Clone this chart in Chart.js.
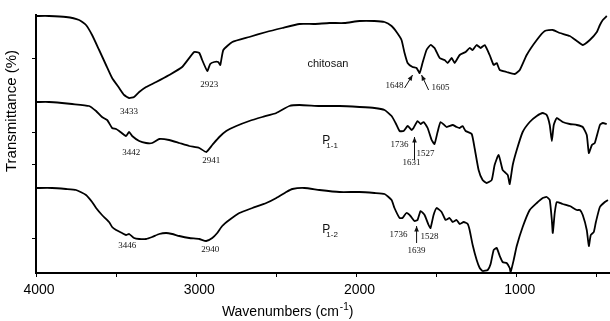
<!DOCTYPE html>
<html>
<head>
<meta charset="utf-8">
<script src="https://cdn.jsdelivr.net/npm/chart.js@4"></script>
<style>
  html, body { margin: 0; padding: 0; background: #fff; }
  #wrap { width: 610px; height: 321px; }
</style>
</head>
<body>
<div id="wrap"><canvas id="ftir"></canvas></div>
<script>
// spectra (wavenumber in cm-1, transmittance in arbitrary stacked units)
const chitosanWn = [4000,3919,3813,3731,3688,3650,3606,3563,3525,3481,3450,3419,3388,3356,3313,3250,3169,3088,3013,2981,2963,2931,2913,2888,2863,2850,2831,2775,2669,2563,2463,2356,2263,2169,2075,1981,1888,1825,1781,1750,1719,1700,1681,1650,1625,1606,1588,1563,1538,1513,1481,1450,1431,1406,1388,1356,1319,1294,1275,1250,1225,1200,1169,1144,1125,1106,1063,1013,981,938,875,825,775,731,669,625,588,544,500,481,463,438];
const chitosanT  = [257,257,256,253,248,238,223,208,195,185,178,175,176,181,186,191,198,206,221,220,213,202,209,211,211,208,223,231,236,241,245,249,249,250,250,252,252,251,247,241,233,220,210,206,205,200,210,223,228,225,215,213,210,215,210,218,221,225,223,228,225,228,218,208,210,203,201,199,203,218,233,242,243,240,237,232,228,233,241,248,253,257];

const p11Wn = [3994,3919,3838,3775,3669,3625,3588,3556,3544,3525,3500,3481,3438,3419,3400,3356,3313,3275,3231,3169,3106,3044,2981,2938,2900,2856,2813,2750,2669,2588,2500,2419,2356,2231,2106,1981,1888,1825,1781,1756,1731,1706,1681,1656,1644,1619,1600,1581,1556,1531,1513,1494,1475,1438,1400,1375,1356,1338,1319,1281,1263,1238,1213,1188,1156,1138,1113,1088,1075,1056,1044,1025,1000,963,919,875,838,813,794,781,769,750,713,669,625,588,563,550,531,513,481,463,438];
const p11T  = [171,171,170,169,167,162,156,153,150,145,144,142,137,141,137,132,130,130,134,133,130,127,125,121,128,136,142,147,152,156,160,167,168,167,167,166,165,163,157,150,142,142,147,143,145,152,149,151,145,133,129,141,151,146,148,146,145,147,142,139,125,103,93,90,93,108,118,103,101,98,89,108,123,141,151,157,160,158,148,132,148,155,151,149,148,146,138,120,128,130,148,150,149];

const p12Wn = [4000,3900,3813,3750,3688,3650,3625,3588,3544,3525,3500,3463,3438,3419,3388,3356,3313,3275,3231,3188,3150,3106,3044,2981,2938,2900,2869,2838,2794,2731,2650,2563,2500,2438,2400,2325,2231,2106,1981,1888,1825,1781,1763,1731,1713,1688,1663,1638,1619,1600,1575,1550,1538,1519,1500,1469,1444,1419,1400,1375,1356,1331,1306,1294,1275,1250,1231,1213,1181,1163,1144,1125,1106,1088,1063,1044,1038,1019,1000,963,919,875,838,813,794,781,775,763,750,713,669,625,606,588,563,550,538,519,506,481,450,431];
const p12T  = [85,85,84,83,78,71,65,58,51,46,43,40,38,39,35,34,34,36,39,40,39,37,35,34,32,35,40,47,53,60,65,70,75,81,84,85,83,81,81,80,79,73,65,55,55,60,57,52,53,62,58,48,45,58,65,61,53,55,51,53,49,51,49,43,28,13,5,2,3,9,23,25,17,11,10,5,1,13,27,46,63,70,75,76,73,53,40,60,71,69,67,63,63,58,43,27,38,41,51,66,71,73];

const xTicks = [4000, 3500, 3000, 2500, 2000, 1500, 1000, 500];
const yTicks = [214, 141, 108, 35];

// peak labels: [text, wavenumber, transmittance]
const peakLabels = [
  ['3433', 3419, 161], ['2923', 2919, 188], ['1648', 1763, 187], ['1605', 1475, 185],
  ['3442', 3406, 120], ['2941', 2906, 112], ['1736', 1731, 128], ['1527', 1569, 119], ['1631', 1656, 110],
  ['3446', 3431, 27],  ['2940', 2913, 23],  ['1736', 1738, 38],  ['1528', 1544, 36],  ['1639', 1625, 22]
];
// arrows: [fromWn, fromT, toWn, toT]
const arrows = [
  [1700, 185, 1650, 198], [1550, 183, 1594, 198],
  [1638, 113, 1638, 136],
  [1625, 30, 1625, 47]
];
// sample names: [main, subscript, wavenumber, transmittance]
const sampleNames = [['chitosan', '', 2306, 210], ['P', '1-1', 2213, 131], ['P', '1-2', 2213, 42]];

function pts(wn, t) {
  return wn.map((w, i) => ({ x: w, y: t[i] }));
}

const lineStyle = {
  borderColor: '#000',
  borderWidth: 1.8,
  pointRadius: 0,
  tension: 0.15,
  fill: false
};

const annotate = {
  id: 'annotate',
  afterDatasetsDraw(chart) {
    const { ctx, scales: { x, y } } = chart;
    ctx.save();
    ctx.fillStyle = '#111';
    ctx.strokeStyle = '#111';

    // peak numbers
    ctx.font = '9px "Liberation Serif", serif';
    ctx.textAlign = 'center';
    ctx.textBaseline = 'middle';
    peakLabels.forEach(([txt, w, t]) => {
      ctx.fillText(txt, x.getPixelForValue(w), y.getPixelForValue(t));
    });

    // arrows
    ctx.lineWidth = 1;
    arrows.forEach(([w1, t1, w2, t2]) => {
      const x1 = x.getPixelForValue(w1), y1 = y.getPixelForValue(t1);
      const x2 = x.getPixelForValue(w2), y2 = y.getPixelForValue(t2);
      const a = Math.atan2(y2 - y1, x2 - x1);
      ctx.beginPath();
      ctx.moveTo(x1, y1);
      ctx.lineTo(x2, y2);
      ctx.stroke();
      ctx.beginPath();
      ctx.moveTo(x2, y2);
      ctx.lineTo(x2 - 6 * Math.cos(a - 0.4), y2 - 6 * Math.sin(a - 0.4));
      ctx.lineTo(x2 - 6 * Math.cos(a + 0.4), y2 - 6 * Math.sin(a + 0.4));
      ctx.closePath();
      ctx.fill();
    });

    // sample names
    ctx.textAlign = 'left';
    ctx.textBaseline = 'alphabetic';
    sampleNames.forEach(([main, sub, w, t]) => {
      const px = x.getPixelForValue(w), py = y.getPixelForValue(t);
      if (!sub) {
        ctx.font = '11px "Liberation Sans", Arial, sans-serif';
        ctx.fillText(main, px, py + 4);
      } else {
        ctx.font = '12px "Liberation Sans", Arial, sans-serif';
        ctx.fillText(main, px, py + 2);
        ctx.font = '8px "Liberation Sans", Arial, sans-serif';
        ctx.fillText(sub, px + 4, py + 6);
      }
    });
    ctx.restore();
  },
  afterDraw(chart) {
    const { ctx, scales: { x, y } } = chart;
    ctx.save();
    ctx.fillStyle = '#000';

    // y title
    ctx.font = '15px "Liberation Sans", Arial, sans-serif';
    ctx.textAlign = 'center';
    ctx.textBaseline = 'middle';
    ctx.translate(12, y.getPixelForValue(162));
    ctx.rotate(-Math.PI / 2);
    ctx.fillText('Transmittance (%)', 0, 0);
    ctx.setTransform(1, 0, 0, 1, 0, 0);

    // x title with superscript
    const base = chart.height - 5;
    let px = x.getPixelForValue(2840);
    ctx.textAlign = 'left';
    ctx.textBaseline = 'alphabetic';
    ctx.font = '14px "Liberation Sans", Arial, sans-serif';
    const t1 = 'Wavenumbers (cm';
    ctx.fillText(t1, px, base);
    px += ctx.measureText(t1).width;
    ctx.font = '10px "Liberation Sans", Arial, sans-serif';
    ctx.fillText('-1', px + 1, base - 6);
    px += ctx.measureText('-1').width + 1;
    ctx.font = '14px "Liberation Sans", Arial, sans-serif';
    ctx.fillText(')', px, base);
    ctx.restore();
  }
};

new Chart(document.getElementById('ftir'), {
  type: 'line',
  data: {
    datasets: [
      { label: 'chitosan', data: pts(chitosanWn, chitosanT), ...lineStyle },
      { label: 'P1-1', data: pts(p11Wn, p11T), ...lineStyle },
      { label: 'P1-2', data: pts(p12Wn, p12T), ...lineStyle }
    ]
  },
  options: {
    responsive: true,
    maintainAspectRatio: false,
    animation: false,
    devicePixelRatio: 1,
    layout: { padding: { top: 15, right: 0, left: 0, bottom: 0 } },
    plugins: {
      legend: { display: false },
      tooltip: { enabled: false }
    },
    scales: {
      x: {
        type: 'linear',
        reverse: true,
        min: 418,
        max: 4000,
        afterBuildTicks: s => { s.ticks = xTicks.map(v => ({ value: v })); },
        afterFit: s => { s.height = 48; },
        border: { color: '#000', width: 2 },
        grid: { drawOnChartArea: false, color: '#000', tickLength: 4, lineWidth: 1 },
        ticks: {
          color: '#000',
          font: { family: '"Liberation Sans", Arial, sans-serif', size: 14 },
          padding: 5,
          maxRotation: 0,
          autoSkip: false,
          labelOffset: 3,
          callback: v => (v % 1000 === 0 ? String(v) : '')
        }
      },
      y: {
        min: 0,
        max: 258,
        afterBuildTicks: s => { s.ticks = yTicks.map(v => ({ value: v })); },
        afterFit: s => { s.width = 36; },
        border: { color: '#000', width: 2 },
        grid: { drawOnChartArea: false, color: '#000', tickLength: 4, lineWidth: 1 },
        ticks: { display: false }
      }
    }
  },
  plugins: [annotate]
});
</script>
</body>
</html>
